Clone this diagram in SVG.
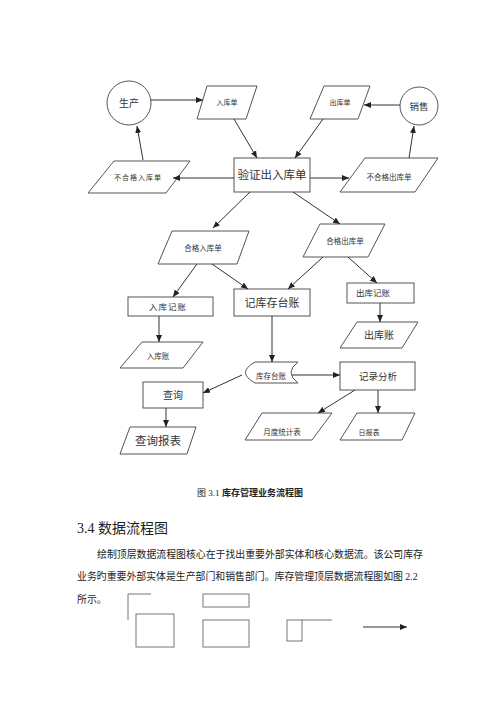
<svg xmlns="http://www.w3.org/2000/svg" width="500" height="707" viewBox="0 0 500 707">
<defs>
<marker id="ah" markerWidth="7" markerHeight="6" refX="7" refY="3" orient="auto" markerUnits="userSpaceOnUse">
<path d="M0,0 L7,3 L0,6 Z" fill="#222"/>
</marker>
</defs>
<style>
.s{fill:#fff;stroke:#555;stroke-width:1}
.c{stroke:#333;stroke-width:1;fill:none;marker-end:url(#ah)}
.t{font-family:"Liberation Serif","Noto Sans CJK SC",serif;fill:#333;text-anchor:middle}
.p{font-family:"Liberation Serif","Noto Sans CJK SC",serif;fill:#222}
.g{fill:none;stroke:#777;stroke-width:1}
</style>
<rect width="500" height="707" fill="#fff"/>

<g id="shengchan"><circle class="s" cx="129" cy="103" r="22"/><text class="t" x="129" y="106.5" font-size="10">生产</text></g>
<g id="rukudan"><polygon class="s" points="207,86 257,86 246,119 197,119"/><text class="t" x="227" y="105" font-size="7">入库单</text></g>
<g id="chukudan"><polygon class="s" points="324,86 370,86 358,119 310,119"/><text class="t" x="340" y="105" font-size="7">出库单</text></g>
<g id="xiaoshou"><circle class="s" cx="419" cy="106" r="19"/><text class="t" x="419" y="109.5" font-size="9.5">销售</text></g>
<g id="yanzheng"><rect class="s" x="234" y="158" width="76" height="34"/><text class="t" x="272" y="179" font-size="11.5">验证出入库单</text></g>
<g id="buhegeruku"><polygon class="s" points="114,161 190,161 166,193 88,193"/><text class="t" x="138" y="180" font-size="7" letter-spacing="1">不合格入库单</text></g>
<g id="buhegechuku"><polygon class="s" points="365,158 438,158 415,192 340,192"/><text class="t" x="389" y="180" font-size="7.5">不合格出库单</text></g>
<g id="hegeruku"><polygon class="s" points="172,231 249,231 237,264 158,264"/><text class="t" x="203" y="251" font-size="7.5">合格入库单</text></g>
<g id="hegechuku"><polygon class="s" points="320,224 385,224 368,257 303,257"/><text class="t" x="345" y="244" font-size="7.5">合格出库单</text></g>
<g id="jikucuntaizhang"><rect class="s" x="234" y="289" width="76" height="27"/><text class="t" x="272" y="306.5" font-size="11">记库存台账</text></g>
<g id="rukujizhang"><rect class="s" x="128" y="297" width="85" height="19"/><text class="t" x="168" y="310" font-size="8.5" letter-spacing="1">入库记账</text></g>
<g id="chukujizhang"><rect class="s" x="347" y="283" width="67" height="20"/><text class="t" x="373" y="296" font-size="8.5">出库记账</text></g>
<g id="rukuzhang"><polygon class="s" points="142,342 203,342 183,368 120,368"/><text class="t" x="158" y="359" font-size="7.5">入库账</text></g>
<g id="chukuzhang"><polygon class="s" points="357,322 418,322 402,348 340,348"/><text class="t" x="379" y="339" font-size="10">出库账</text></g>
<g id="kucuntaizhang"><path class="s" d="M255,362 L298,362 Q284,372.5 298,383 L255,383 Q236,372.5 255,362 Z"/><text class="t" x="271" y="379" font-size="7.5">库存台账</text></g>
<g id="jilufenxi"><rect class="s" x="340" y="362" width="75" height="28"/><text class="t" x="378" y="379.5" font-size="9.5">记录分析</text></g>
<g id="chaxun"><rect class="s" x="143" y="382" width="60" height="26"/><text class="t" x="173" y="398.5" font-size="10">查询</text></g>
<g id="chaxunbaobiao"><polygon class="s" points="130,427 196,427 187,454 120,454"/><text class="t" x="158" y="445" font-size="11.5">查询报表</text></g>
<g id="yuebaobiao"><polygon class="s" points="262,413 332,413 312,440 245,440"/><text class="t" x="282" y="435" font-size="7.5">月度统计表</text></g>
<g id="ribaobiao"><polygon class="s" points="357,413 415,413 402,440 340,440"/><text class="t" x="369" y="435" font-size="7">日报表</text></g>

<g id="connectors">
<line class="c" x1="151" y1="100" x2="203" y2="100"/>
<line class="c" x1="400" y1="105" x2="364" y2="105"/>
<line class="c" x1="234" y1="119" x2="257" y2="158"/>
<line class="c" x1="323" y1="119" x2="295" y2="158"/>
<line class="c" x1="234" y1="178" x2="173" y2="178"/>
<line class="c" x1="310" y1="178" x2="349" y2="178"/>
<line class="c" x1="143" y1="160" x2="137" y2="126"/>
<line class="c" x1="409" y1="158" x2="414" y2="126"/>
<line class="c" x1="250" y1="192" x2="213" y2="228"/>
<line class="c" x1="293" y1="192" x2="340" y2="224"/>
<line class="c" x1="197" y1="264" x2="173" y2="297"/>
<line class="c" x1="212" y1="264" x2="248" y2="289"/>
<line class="c" x1="323" y1="257" x2="288" y2="289"/>
<line class="c" x1="348" y1="257" x2="377" y2="283"/>
<line class="c" x1="159" y1="316" x2="159" y2="342"/>
<line class="c" x1="380" y1="303" x2="380" y2="322"/>
<line class="c" x1="272" y1="316" x2="272" y2="362"/>
<line class="c" x1="292" y1="375" x2="340" y2="375"/>
<line class="c" x1="242" y1="375" x2="203" y2="393"/>
<line class="c" x1="166" y1="408" x2="166" y2="427"/>
<line class="c" x1="355" y1="390" x2="318" y2="413"/>
<line class="c" x1="378" y1="390" x2="378" y2="413"/>
</g>

<text x="250" y="496" font-family="Liberation Serif,'Noto Sans CJK SC',serif" font-size="9" fill="#222" text-anchor="middle">图 3.1 <tspan font-weight="bold">库存管理业务流程图</tspan></text>
<text class="p" x="77" y="533" font-size="14">3.4  <tspan font-family="'Noto Sans CJK SC',sans-serif">数据流程图</tspan></text>
<text class="p" x="97" y="558" font-size="9.9">绘制顶层数据流程图核心在于找出重要外部实体和核心数据流。该公司库存</text>
<text class="p" x="77" y="580" font-size="9.9">业务旳重要外部实体是生产部门和销售部门。库存管理顶层数据流程图如图 2.2</text>
<text class="p" x="77" y="603" font-size="9.9">所示。</text>

<polyline class="g" points="128,620 128,594 151,594"/>
<rect class="g" x="136" y="614" width="38" height="33"/>
<rect class="g" x="203" y="594" width="46" height="13"/>
<rect class="g" x="203" y="620" width="46" height="27"/>
<rect class="g" x="287" y="620" width="15" height="21"/>
<line class="g" x1="302" y1="620" x2="332" y2="620"/>
<line class="c" x1="363" y1="627" x2="407" y2="627"/>
</svg>
